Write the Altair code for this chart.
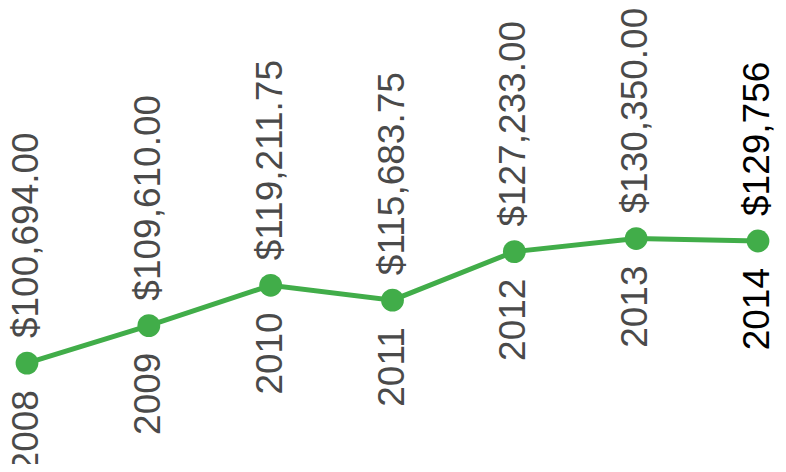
import altair as alt
import pandas as pd

years = [2008, 2009, 2010, 2011, 2012, 2013, 2014]
salaries = [100694.00, 109610.00, 119211.75, 115683.75, 127233.00, 130350.00, 129756.00]
value_labels = ["$100,694.00", "$109,610.00", "$119,211.75", "$115,683.75",
                "$127,233.00", "$130,350.00", "$129,756"]
highlight = [False, False, False, False, False, False, True]

df = pd.DataFrame({
    "year": years,
    "salary": salaries,
    "label": value_labels,
    "year_label": [str(y) for y in years],
    "hl": highlight,
})

GREEN = "#41ad49"
FONT = "Liberation Sans"

xs = alt.X("year:Q", scale=alt.Scale(domain=[2008, 2014], range=[19, 750]), axis=None)
ys = alt.Y("salary:Q", scale=alt.Scale(domain=[100000, 130000], range=[358, 232], zero=False), axis=None)

base = alt.Chart(df).encode(x=xs, y=ys)

line = base.mark_line(color=GREEN, strokeWidth=5)
points = base.mark_circle(color=GREEN, opacity=1, size=520)

normal = base.transform_filter("!datum.hl")
last = base.transform_filter("datum.hl")

layers = [line, points]
for sub, col in [(normal, "#4a4a4a"), (last, "#000000")]:
    layers.append(sub.mark_text(
        angle=270, align="right", baseline="middle", dx=-27, font=FONT,
        fontSize=37, color=col
    ).encode(text="year_label:N"))
    layers.append(sub.mark_text(
        angle=270, align="left", baseline="middle", dx=25, font=FONT,
        fontSize=37, color=col
    ).encode(text="label:N"))

chart = alt.layer(*layers).properties(
    width=770, height=456,
    autosize=alt.AutoSizeParams(type="none"),
    padding=0,
).configure_view(stroke=None)

chart.save("out.html", embed_options={"renderer": "svg", "actions": False})
